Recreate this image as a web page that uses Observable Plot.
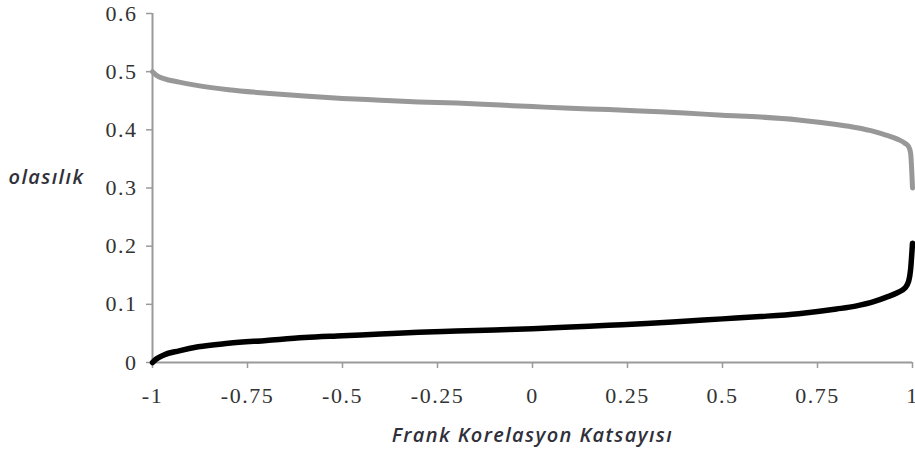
<!DOCTYPE html>
<html>
<head>
<meta charset="utf-8">
<script src="https://cdn.jsdelivr.net/npm/d3@7"></script>
<script src="https://cdn.jsdelivr.net/npm/@observablehq/plot@0.6"></script>
<style>
  html, body { margin: 0; padding: 0; background: #fff; }
</style>
</head>
<body>
<div id="chart"></div>
<script>
const xValues = [-1, -0.99, -0.97, -0.93, -0.88, -0.8, -0.7, -0.6, -0.5, -0.4, -0.3, -0.2, -0.1, 0, 0.1, 0.2, 0.3, 0.4, 0.5, 0.6, 0.7, 0.8, 0.85, 0.9, 0.93, 0.96, 0.98, 0.99, 0.995, 1];
const upperSeries = [0.500, 0.494, 0.488, 0.482, 0.476, 0.469, 0.463, 0.458, 0.454, 0.451, 0.448, 0.446, 0.443, 0.440, 0.437, 0.435, 0.432, 0.429, 0.425, 0.422, 0.417, 0.409, 0.404, 0.397, 0.391, 0.384, 0.377, 0.371, 0.360, 0.300];
const lowerSeries = [0.000, 0.006, 0.013, 0.020, 0.027, 0.033, 0.038, 0.043, 0.046, 0.049, 0.052, 0.054, 0.056, 0.058, 0.061, 0.064, 0.067, 0.071, 0.075, 0.079, 0.084, 0.092, 0.097, 0.105, 0.112, 0.120, 0.128, 0.140, 0.160, 0.205];
const xTicks = [-1, -0.75, -0.5, -0.25, 0, 0.25, 0.5, 0.75, 1];
const yTicks = [0, 0.1, 0.2, 0.3, 0.4, 0.5, 0.6];
const yLabel = "olasılık";
const xLabel = "Frank Korelasyon Katsayısı";

const upper = xValues.map((x, i) => ({x, y: upperSeries[i]}));
const lower = xValues.map((x, i) => ({x, y: lowerSeries[i]}));

const chart = Plot.plot({
  width: 915,
  height: 459,
  marginLeft: 152,
  marginRight: 3,
  marginTop: 13,
  marginBottom: 97,
  style: {fontFamily: "'Liberation Serif', 'Times New Roman', serif", fontSize: "22px", letterSpacing: "1.5px", background: "#fff"},
  x: {domain: [-1, 1]},
  y: {domain: [0, 0.6]},
  marks: [
    Plot.ruleY([0], {stroke: "#9a9a9a", strokeWidth: 2}),
    Plot.ruleX([-1], {stroke: "#9a9a9a", strokeWidth: 2}),
    Plot.axisX({ticks: xTicks, tickFormat: d => String(d), tickSize: 6, tickPadding: 19, stroke: "#9a9a9a", strokeWidth: 1.5, label: null, fill: "#333"}),
    Plot.axisY({ticks: yTicks, tickFormat: d => String(d), tickSize: 6, tickPadding: 9, stroke: "#9a9a9a", strokeWidth: 1.5, label: null, fill: "#333"}),
    Plot.line(upper, {x: "x", y: "y", stroke: "#989898", strokeWidth: 5, curve: "monotone-x"}),
    Plot.line(lower, {x: "x", y: "y", stroke: "#000", strokeWidth: 5.5, curve: "monotone-x"}),
    Plot.text([yLabel], {frameAnchor: "left", dx: -144, dy: -10, textAnchor: "start", fontSize: 20, fontStyle: "italic", fontWeight: 600, fontFamily: "Open Sans", fill: "#30303a"}),
    Plot.text([xLabel], {frameAnchor: "bottom", dy: 79, textAnchor: "middle", fontSize: 20, fontStyle: "italic", fontWeight: 600, fontFamily: "Open Sans", fill: "#30303a"})
  ]
});
chart.querySelectorAll("g[aria-label='text'] text").forEach(t => t.style.letterSpacing = "1.4px");
document.getElementById("chart").appendChild(chart);
</script>
</body>
</html>
